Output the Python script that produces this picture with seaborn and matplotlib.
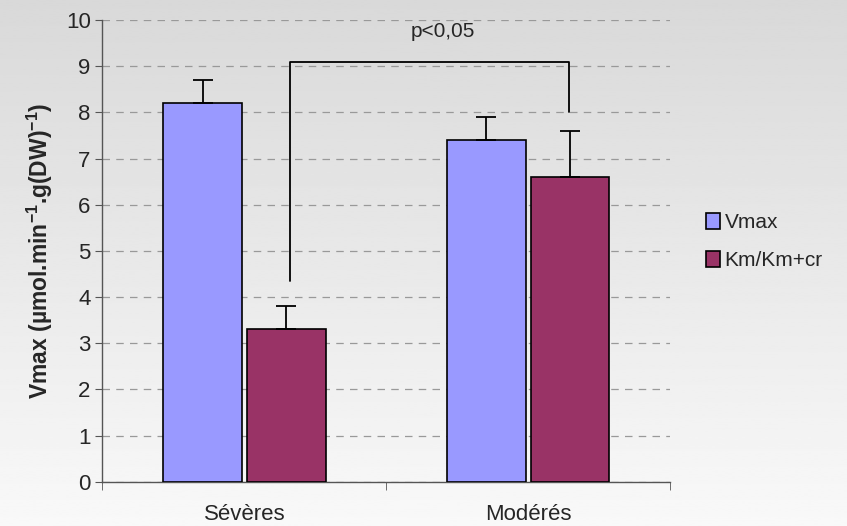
import numpy as np
import pandas as pd
import seaborn as sns
import matplotlib.pyplot as plt

groupes = ["Sévères", "Modérés"]
series = ["Vmax", "Km/Km+cr"]
vmax = [8.2, 7.4]
vmax_err = [0.5, 0.5]
km = [3.3, 6.6]
km_err = [0.5, 1.0]
couleurs = ["#9999FF", "#993366"]

df = pd.DataFrame({
    "groupe": groupes * 2,
    "serie": [series[0]] * 2 + [series[1]] * 2,
    "valeur": vmax + km,
    "err": vmax_err + km_err,
})

sns.set_style("white")
plt.rcParams['font.family'] = ['Liberation Sans', 'DejaVu Sans']
plt.rcParams['mathtext.default'] = 'regular'

fig = plt.figure(figsize=(8.47, 5.26), dpi=100)

# fond en degrade gris
bg = fig.add_axes([0, 0, 1, 1], zorder=-10)
grad = np.linspace(0.85, 0.975, 256).reshape(-1, 1)
bg.imshow(grad, cmap="gray", vmin=0, vmax=1, aspect="auto", extent=[0, 1, 0, 1])
bg.axis("off")

ax = fig.add_axes([0.121, 0.084, 0.670, 0.878])
ax.set_facecolor("none")

sns.barplot(data=df, x="groupe", y="valeur", hue="serie", palette=couleurs, saturation=1,
            width=0.59, gap=0.06, edgecolor="black", linewidth=1.2,
            errorbar=None, ax=ax, zorder=3)

# barres d'erreur (seulement vers le haut)
for patch, (_, row) in zip(ax.patches, df.iterrows()):
    cx = patch.get_x() + patch.get_width() / 2
    ax.errorbar(cx, row["valeur"], yerr=[[0], [row["err"]]], fmt="none",
                ecolor="black", elinewidth=1.3, capsize=7, capthick=1.3, zorder=4)

# crochet de significativite
ax.plot([0.16, 0.16, 1.145, 1.145], [4.35, 9.1, 9.1, 8.0], color="black", lw=1.3, zorder=5)
ax.text(0.70, 9.75, "p<0,05", ha="center", va="center", fontsize=15)

ax.set_ylim(0, 10)
ax.set_xlim(-0.5, 1.5)
ax.set_yticks(range(0, 11))
ax.yaxis.grid(True, linestyle=(0, (6, 5)), color="#999999", lw=0.9)
ax.set_axisbelow(True)
ax.tick_params(axis="y", labelsize=16, length=5, left=True, direction="out", color="#555555")
ax.tick_params(axis="x", labelsize=16, length=0, pad=16)
ax.set_xticks([-0.5, 0.5, 1.5], minor=True)
ax.tick_params(axis="x", which="minor", length=6, bottom=True, direction="out", color="#555555")
for s in ["top", "right"]:
    ax.spines[s].set_visible(False)
for s in ["left", "bottom"]:
    ax.spines[s].set_color("#555555")
    ax.spines[s].set_linewidth(1.0)
ax.set_xlabel("")
ax.set_ylabel("Vmax (µmol.min$^{-1}$.g(DW)$^{-1}$)", fontsize=16.5, fontweight="bold", labelpad=8)

ax.legend(loc="center left", bbox_to_anchor=(1.03, 0.52), frameon=False, fontsize=15,
          handlelength=0.7, handleheight=0.8, handletextpad=0.2, labelspacing=0.9)

fig.savefig("out.png", dpi=100)
